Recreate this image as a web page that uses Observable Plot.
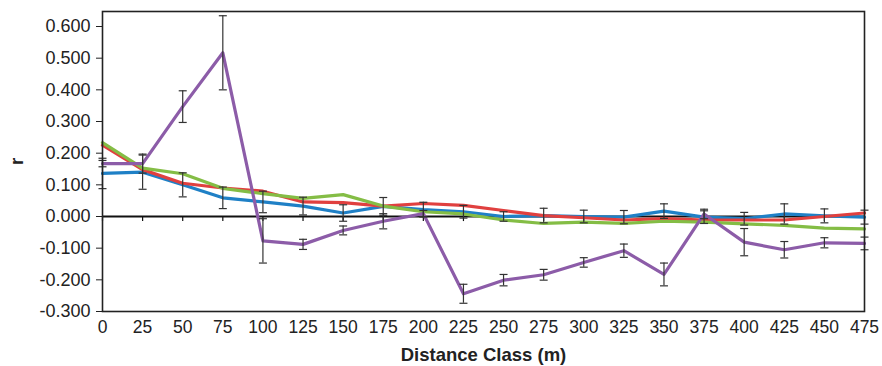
<!DOCTYPE html>
<html>
<head>
<meta charset="utf-8">
<script src="https://cdn.jsdelivr.net/npm/d3@7"></script>
<script src="https://cdn.jsdelivr.net/npm/@observablehq/plot@0.6"></script>
<style>
  html, body { margin: 0; padding: 0; background: white; }
  g[aria-label="x-axis label"], g[aria-label="y-axis label"] { font-weight: bold; font-size: 18.5px; }
  g[aria-label="y-axis tick label"] { font-size: 18px; }
</style>
</head>
<body>
<div id="chart"></div>
<script>
const distances = [0,25,50,75,100,125,150,175,200,225,250,275,300,325,350,375,400,425,450,475];
const blue   = [0.136,0.140,0.100,0.059,0.046,0.033,0.011,0.032,0.022,0.015,0.000,0.003,0.000,-0.002,0.017,-0.002,-0.007,0.008,0.002,-0.002];
const red    = [0.225,0.148,0.105,0.090,0.080,0.046,0.044,0.033,0.041,0.035,0.019,0.003,-0.004,-0.011,-0.007,-0.011,-0.011,-0.011,0.000,0.011];
const green  = [0.233,0.153,0.135,0.089,0.072,0.057,0.069,0.033,0.015,0.008,-0.011,-0.022,-0.018,-0.022,-0.015,-0.018,-0.023,-0.028,-0.037,-0.039];
const purple = [0.167,0.167,0.347,0.517,-0.077,-0.088,-0.044,-0.015,0.009,-0.244,-0.201,-0.184,-0.145,-0.108,-0.183,0.008,-0.081,-0.105,-0.083,-0.085];
const blueErr   = [0.048,0.054,0.038,0.034,0.034,0.028,0.026,0.028,0.023,0.020,0.015,0.023,0.020,0.021,0.023,0.020,0.020,0.032,0.022,0.022];
const purpleErr = [0.010,0.030,0.050,0.117,0.070,0.016,0.014,0.024,0.010,0.030,0.018,0.017,0.015,0.021,0.036,0.015,0.043,0.026,0.016,0.020];
const yTicks = [-0.3,-0.2,-0.1,0,0.1,0.2,0.3,0.4,0.5,0.6];
const xTicks = distances;
const colors = {blue: "#1f80c6", red: "#e0403f", green: "#84bd45", purple: "#8c5ca8"};

const seriesRows = (vals, name) => distances.map((d, i) => ({x: d, y: vals[i], s: name}));
const errRows = (vals, errs) => distances.map((d, i) => ({x: d, lo: vals[i] - errs[i], hi: vals[i] + errs[i]}));
const errs = [...errRows(blue, blueErr), ...errRows(purple, purpleErr)];

const cap = {draw(ctx) { ctx.moveTo(-4, 0); ctx.lineTo(4, 0); }};

const chart = Plot.plot({
  width: 882,
  height: 366,
  marginLeft: 102,
  marginRight: 18,
  marginTop: 11,
  marginBottom: 55,
  style: {fontFamily: "'Liberation Sans', Arial, sans-serif", fontSize: "17.5px", color: "#222", background: "white", overflow: "visible"},
  x: {type: "linear", domain: [0, 475]},
  y: {domain: [-0.3, 0.6474]},
  marks: [
    Plot.axisY({ticks: yTicks, tickFormat: d => d.toFixed(3), tickSize: 6, tickPadding: 6, stroke: "#222",
      label: "r", labelAnchor: "center", labelOffset: 93, labelArrow: "none"}),
    Plot.axisX({ticks: xTicks, tickFormat: d => String(d), tickSize: 0, tickPadding: 9,
      label: "Distance Class (m)", labelAnchor: "center", labelOffset: 49, labelArrow: "none"}),
    Plot.ruleY([0], {stroke: "#111", strokeWidth: 2}),
    Plot.ruleX(xTicks, {y1: 0, y2: -0.016, stroke: "#111", strokeWidth: 1.2}),
    Plot.line(seriesRows(blue, "blue"), {x: "x", y: "y", stroke: colors.blue, strokeWidth: 3.2}),
    Plot.line(seriesRows(red, "red"), {x: "x", y: "y", stroke: colors.red, strokeWidth: 3.2}),
    Plot.line(seriesRows(green, "green"), {x: "x", y: "y", stroke: colors.green, strokeWidth: 3.2}),
    Plot.line(seriesRows(purple, "purple"), {x: "x", y: "y", stroke: colors.purple, strokeWidth: 3.2}),
    Plot.ruleX(errs, {x: "x", y1: "lo", y2: "hi", stroke: "#333", strokeWidth: 1.2}),
    Plot.dot(errs, {x: "x", y: "lo", symbol: cap, stroke: "#333", strokeWidth: 1.2, fill: "none"}),
    Plot.dot(errs, {x: "x", y: "hi", symbol: cap, stroke: "#333", strokeWidth: 1.2, fill: "none"}),
    Plot.frame({stroke: "#222", strokeWidth: 1.6})
  ]
});
document.getElementById("chart").appendChild(chart);
</script>
</body>
</html>
